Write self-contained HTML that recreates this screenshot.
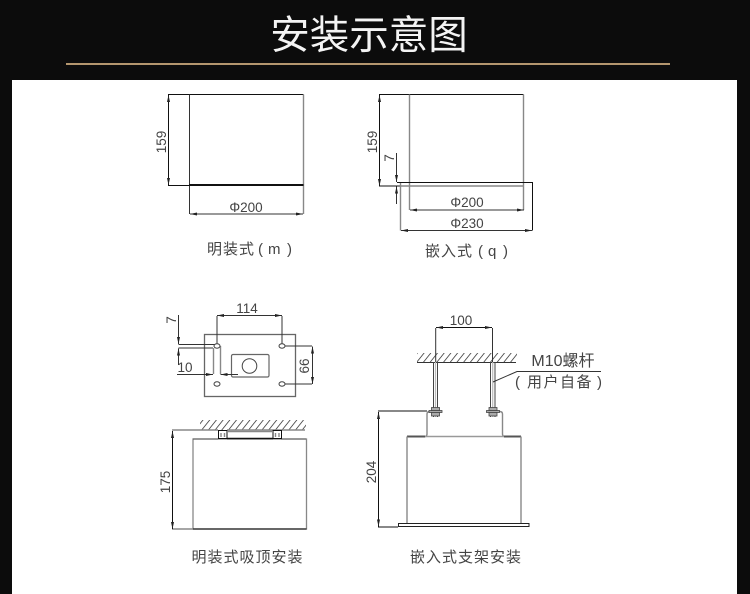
<!DOCTYPE html>
<html><head><meta charset="utf-8">
<style>
html,body{margin:0;padding:0;background:#0c0c0c}
body{width:750px;height:594px;overflow:hidden;position:relative}
svg{position:absolute;left:0;top:0;display:block}
.d{font-family:"Liberation Sans",sans-serif;font-size:13.5px;fill:#444}
.l{font-family:"Liberation Sans","Noto Sans CJK SC",sans-serif;font-size:15px;fill:#444;letter-spacing:1px}
.k{fill:none;stroke:#111;stroke-width:1}
.g{fill:none;stroke:#888;stroke-width:1.4}
.m{fill:none;stroke:#333;stroke-width:1}
</style></head><body>
<svg width="750" height="594" viewBox="0 0 750 594" xmlns="http://www.w3.org/2000/svg">
<defs>
<marker id="a" markerUnits="userSpaceOnUse" markerWidth="8" markerHeight="5" refX="7" refY="2.5" orient="auto-start-reverse"><path d="M0 1L7 2.5L0 4Z" fill="#222"/></marker>
<pattern id="h" patternUnits="userSpaceOnUse" width="6.7" height="10" patternTransform="skewX(-38.66)"><line x1="3" y1="0" x2="3" y2="10" stroke="#333" stroke-width="1"/></pattern>
</defs>
<rect x="0" y="0" width="750" height="594" fill="#0c0c0c"/>
<text x="369" y="49" text-anchor="middle" font-family="'Noto Sans CJK SC',sans-serif" font-size="39.5" font-weight="400" fill="#f4f4f4">安装示意图</text>
<rect x="66" y="63" width="604" height="2" fill="#b4966e"/>
<rect x="12" y="80" width="725" height="514" fill="#fff"/>

<!-- m -->
<path class="k" d="M168 94.5H303.5"/>
<path class="g" d="M303.5 94.5V214"/>
<path class="m" d="M189.5 94.5V214"/>
<path d="M189 185H303.5" stroke="#111" stroke-width="2" fill="none"/>
<path class="k" d="M168 185.5H189"/>
<path class="k" d="M168.5 95V185" marker-start="url(#a)" marker-end="url(#a)"/>
<path class="m" d="M190 214H303" marker-start="url(#a)" marker-end="url(#a)"/>
<text class="d" transform="translate(166,142) rotate(-90)" text-anchor="middle">159</text>
<text class="d" x="246" y="212" text-anchor="middle">Φ200</text>
<text class="l" x="207" y="254">明装式</text>
<text class="l" x="258" y="254">(</text>
<text class="l" x="268" y="254">m</text>
<text class="l" x="287" y="254">)</text>

<!-- q -->
<path class="k" d="M379 94.5H523.5"/>
<path class="g" d="M409.5 94.5V210"/>
<path class="g" d="M523.5 94.5V210"/>
<path class="k" d="M379 186H401"/>
<path class="g" d="M401 186H523" stroke-width="1"/>
<path class="k" d="M397 182.5H532.5V230.5"/>
<path class="g" d="M400.5 183V230.5"/>
<path class="k" d="M379.5 95V186" marker-start="url(#a)" marker-end="url(#a)"/>
<path class="m" d="M396.5 153V182" marker-end="url(#a)"/>
<path class="m" d="M396.5 204V186.5" marker-end="url(#a)"/>
<path class="m" d="M410 210H524" marker-start="url(#a)" marker-end="url(#a)"/>
<path class="m" d="M401 230.5H532" marker-start="url(#a)" marker-end="url(#a)"/>
<text class="d" transform="translate(377,142) rotate(-90)" text-anchor="middle">159</text>
<text class="d" transform="translate(394,158) rotate(-90)" text-anchor="middle">7</text>
<text class="d" x="467" y="207" text-anchor="middle">Φ200</text>
<text class="d" x="467" y="228" text-anchor="middle">Φ230</text>
<text class="l" x="425" y="256">嵌入式</text>
<text class="l" x="478" y="256">(</text>
<text class="l" x="488" y="256">q</text>
<text class="l" x="503" y="256">)</text>

<!-- plate -->
<rect x="204.5" y="334.5" width="91" height="62" fill="none" stroke="#666" stroke-width="1.3"/>
<path class="m" d="M217 316V346M282 316V346"/>
<path class="m" d="M217 315.5H282" marker-start="url(#a)" marker-end="url(#a)"/>
<text class="d" x="247" y="313" text-anchor="middle">114</text>
<path class="m" d="M178.5 344.5H215M178.5 348H213"/>
<path class="g" d="M213.5 348V374M220.5 346V374"/>
<ellipse cx="217" cy="346" rx="3" ry="2.2" fill="#fff" stroke="#444"/>
<ellipse cx="282" cy="346" rx="3" ry="2.2" fill="#fff" stroke="#444"/>
<ellipse cx="217" cy="384" rx="3" ry="2.2" fill="#fff" stroke="#444"/>
<ellipse cx="282" cy="384" rx="3" ry="2.2" fill="#fff" stroke="#444"/>
<rect x="231.5" y="354.5" width="37.5" height="22.5" rx="1.5" fill="none" stroke="#666" stroke-width="1.2"/>
<circle cx="249.5" cy="366" r="7.3" fill="none" stroke="#444"/>
<path class="m" d="M178.5 315V344" marker-end="url(#a)"/>
<path class="m" d="M178.5 365V348.5" marker-end="url(#a)"/>
<path class="m" d="M177 374.5H213" marker-end="url(#a)"/>
<path class="m" d="M238 374.5H220.5" marker-end="url(#a)"/>
<path class="m" d="M285 346H312M285 384H312"/>
<path class="m" d="M312.5 346.5V384" marker-start="url(#a)" marker-end="url(#a)"/>
<text class="d" x="185" y="372" text-anchor="middle">10</text>
<text class="d" transform="translate(176,320) rotate(-90)" text-anchor="middle">7</text>
<text class="d" transform="translate(309,366) rotate(-90)" text-anchor="middle">66</text>

<!-- surface mount -->
<rect x="200" y="420" width="106" height="10" fill="url(#h)"/>
<path class="g" d="M172 430H218M227 430H305" stroke-width="1"/>
<path class="g" d="M172 529H193" stroke-width="1"/>
<rect x="193" y="439" width="113.5" height="90" fill="none" stroke="#888" stroke-width="1.3"/>
<path d="M193 529H306.5" stroke="#222" stroke-width="1.3"/>
<path d="M193 439H218M281 439H306" stroke="#555" stroke-width="1"/>
<rect x="218.5" y="430.5" width="8.5" height="8" fill="#fff" stroke="#111"/>
<rect x="273" y="430.5" width="8.5" height="8" fill="#fff" stroke="#111"/>
<path class="g" d="M221 433V437M224.5 433V437M275.5 433V437M279 433V437" stroke-width="1"/>
<path d="M227 438.5H273" stroke="#111" stroke-width="1.4"/>
<path class="g" d="M227 431.5H273" stroke-width="1"/>
<path class="k" d="M172.5 431V529" marker-start="url(#a)" marker-end="url(#a)"/>
<text class="d" transform="translate(170,482) rotate(-90)" text-anchor="middle">175</text>
<text class="l" x="247.5" y="562" text-anchor="middle">明装式吸顶安装</text>

<!-- embedded -->
<rect x="417" y="353" width="100" height="9" fill="url(#h)"/>
<path class="m" d="M417 362.5H516"/>
<path class="m" d="M435.7 328V362M492.5 328V362"/>
<path class="k" d="M436 327.5H492" marker-start="url(#a)" marker-end="url(#a)"/>
<text class="d" x="461" y="325" text-anchor="middle">100</text>
<path d="M433.5 362V417M437.5 362V417M490.5 362V417M495 362V417" stroke="#444" stroke-width="1" fill="none"/>
<path d="M435.5 362V417M492.7 362V417" stroke="#bbb" stroke-width="1.2" fill="none"/>
<path class="m" d="M493 382L517 371.5H601"/>
<text class="l" x="563" y="366" text-anchor="middle" style="letter-spacing:0;font-size:16px">M10螺杆</text>
<text class="l" x="515" y="387">(</text>
<text class="l" x="527" y="387" style="letter-spacing:1.5px">用户自备</text>
<text class="l" x="597" y="387">)</text>
<path class="g" d="M407 436.5H425.5Q427 436 427 434V414Q427 411.5 430 411.5H436" stroke-width="1.8"/>
<path class="g" d="M521 436.5H504Q502.5 436 502.5 434V414Q502.5 411.5 499.5 411.5H493" stroke-width="1.8"/>
<path d="M407 436.5H425M504 436.5H521" stroke="#555" stroke-width="2" fill="none"/>
<path d="M425 436.5H504" stroke="#999" stroke-width="1.4" fill="none"/>
<g fill="#aaa" stroke="#444" stroke-width=".8">
<rect x="429" y="410.5" width="13" height="2"/><rect x="431.5" y="407.5" width="8" height="3"/><rect x="431.5" y="412.5" width="8" height="3.5"/>
<rect x="486.5" y="410.5" width="13" height="2"/><rect x="489" y="407.5" width="8" height="3"/><rect x="489" y="412.5" width="8" height="3.5"/>
</g>
<path class="g" d="M407 436.5V523.5M521 436.5V523.5"/>
<rect x="398.5" y="523.5" width="130.5" height="3" fill="#fff" stroke="#222" stroke-width="1"/>
<path class="k" d="M378 411H427"/>
<path class="k" d="M378.5 412V527H398" marker-start="url(#a)"/>
<path class="k" d="M378.5 480V526.5" marker-end="url(#a)"/>
<text class="d" transform="translate(376,472) rotate(-90)" text-anchor="middle">204</text>
<text class="l" x="466" y="562" text-anchor="middle">嵌入式支架安装</text>
</svg>
</body></html>
